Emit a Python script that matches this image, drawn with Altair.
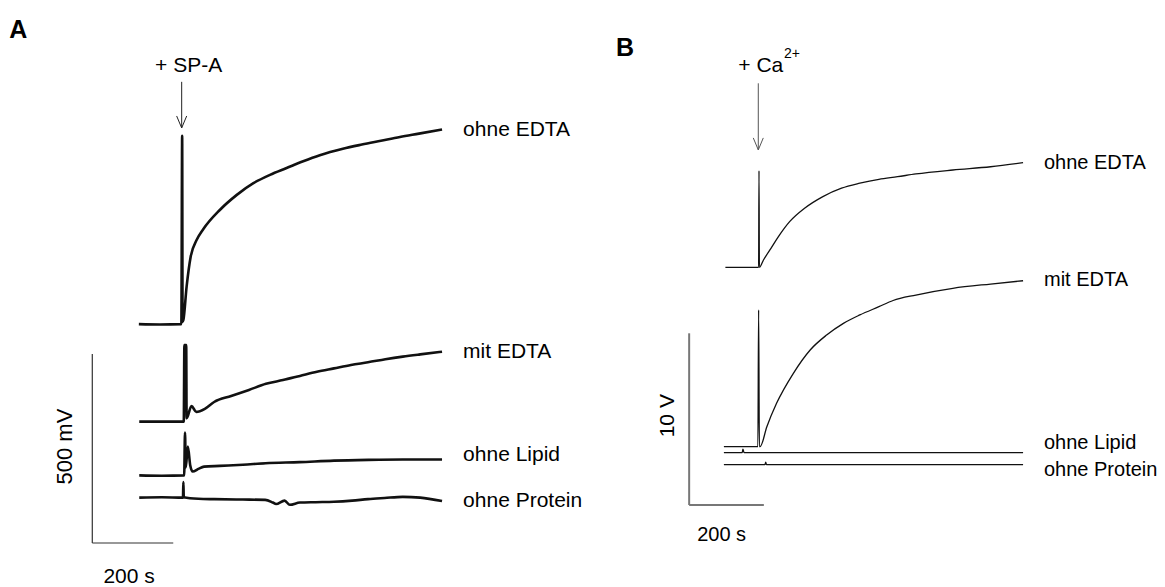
import altair as alt
import pandas as pd

FONT = "Liberation Sans"

# ---------------- Panel A : time (s) vs. signal (mV) ----------------
A_ohne_EDTA_t = [-107, -55, -2, 0, 1, 3, 11, 21, 36, 52, 93, 135, 176, 217, 258, 299, 340, 397, 444, 491, 538, 585, 642]
A_ohne_EDTA_v = [579, 578, 579, 1077, 585, 590, 678, 757, 802, 830, 881, 921, 952, 974, 992, 1010, 1026, 1043, 1054, 1064, 1074, 1083, 1094]

A_mit_EDTA_t = [-106, -50, 4, 5.5, 10, 11, 23, 35, 56, 79, 121, 165, 207, 249, 291, 333, 375, 417, 459, 502, 545, 588, 642]
A_mit_EDTA_v = [321, 321, 321, 524, 524, 330, 362, 347, 355, 373, 389, 405, 421, 431, 442, 453, 462, 471, 478, 486, 493, 499, 506]

A_ohne_Lipid_t = [-106, -50, 5, 7, 9, 14, 20, 26, 40, 54, 93, 150, 206, 290, 375, 460, 545, 642]
A_ohne_Lipid_v = [179, 178, 179, 292, 200, 255, 205, 189, 196, 202, 204, 207, 211, 214, 218, 220, 221, 221]

A_ohne_Protein_t = [-106, -50, 2, 3, 4, 40, 79, 150, 205, 224, 232, 253, 266, 291, 330, 375, 420, 459, 500, 545, 588, 642]
A_ohne_Protein_v = [120, 121, 120, 161, 121, 117, 116, 115, 114, 107, 103, 112, 101, 107, 108, 109, 112, 116, 119, 122, 120, 111]

A_labels = ["ohne EDTA", "mit EDTA", "ohne Lipid", "ohne Protein"]
A_label_t = [694, 694, 694, 694]
A_label_v = [1093, 506, 233, 110]

# scale bar A: 200 s horizontal, 500 mV vertical
A_bar_t = [-222, -22]
A_bar_v = [0, 500]

# ---------------- Panel B : time (s) vs. signal (V) ----------------
B_ohne_EDTA_t = [-90, -1, 0, 1, 12, 32, 52, 82, 122, 171, 221, 270, 321, 371, 420, 519, 620, 707]
B_ohne_EDTA_v = [13.84, 13.84, 19.47, 13.84, 14.27, 14.95, 15.63, 16.5, 17.28, 17.96, 18.45, 18.74, 18.97, 19.12, 19.28, 19.51, 19.7, 19.94]

B_mit_EDTA_t = [-94, -3, -1, 1, 3, 21, 47, 92, 137, 181, 226, 270, 321, 359, 420, 519, 620, 707]
B_mit_EDTA_v = [3.40, 3.40, 11.36, 3.40, 3.40, 4.56, 5.92, 7.67, 9.03, 9.90, 10.58, 11.07, 11.55, 11.91, 12.23, 12.62, 12.87, 13.06]

B_ohne_Lipid_t = [-94, -45, -43, -40, 707]
B_ohne_Lipid_v = [3.05, 3.05, 3.25, 3.05, 3.05]

B_ohne_Protein_t = [-94, 16, 18, 20, 707]
B_ohne_Protein_v = [2.35, 2.35, 2.5, 2.35, 2.35]

B_labels = ["ohne EDTA", "mit EDTA", "ohne Lipid", "ohne Protein"]
B_label_t = [763, 763, 763, 763]
B_label_v = [19.9, 13.1, 3.63, 2.04]

# scale bar B: 200 s horizontal, 10 V vertical
B_bar_t = [-187, 13]
B_bar_v = [0, 10]

# ---------------- annotations ----------------
A_arrow_t = -1.2
A_arrow_v = [1220, 1098]
A_head_dt, A_head_dv = 12.4, 31.7
B_arrow_t = -1.9
B_arrow_v = [24.56, 20.68]
B_head_dt, B_head_dv = 13.4, 0.7

W_A, W_B, H = 600, 565, 587
A_x = alt.Scale(domain=[-450, 1032.2], nice=False, zero=False)
A_y = alt.Scale(domain=[-116.4, 1436.5], nice=False, zero=False)
B_x = alt.Scale(domain=[-425.7, 1087.0], nice=False, zero=False)
B_y = alt.Scale(domain=[-4.776, 29.412], nice=False, zero=False)


def traces(d):
    rows = []
    for name, (ts, vs) in d.items():
        for i, (t, v) in enumerate(zip(ts, vs)):
            rows.append({"series": name, "t": t, "v": v, "i": i})
    return pd.DataFrame(rows)


def panel(tr, width_px, xs, ys, labels, lt, lv, label_size, bar_t, bar_v, arrow_t, arrow_v, hdt, hdv,
          texts, line_w, bar_color, bar_w, arrow_color):
    X = lambda f="t": alt.X(f, type="quantitative", scale=xs, axis=None)
    Y = lambda f="v": alt.Y(f, type="quantitative", scale=ys, axis=None)

    lines = alt.Chart(tr).mark_line(color="#111111", strokeWidth=line_w, strokeJoin="round",
                                    interpolate="monotone").encode(
        x=X(), y=Y(), detail="series:N", order="i:Q")

    lab = alt.Chart(pd.DataFrame({"name": labels, "t": lt, "v": lv})).mark_text(
        align="left", baseline="middle", font=FONT, fontSize=label_size, color="#000000").encode(
        x=X(), y=Y(), text="name:N")

    bars = pd.DataFrame({"t": [bar_t[0], bar_t[0]], "t2": [bar_t[1], bar_t[0]],
                         "v": [bar_v[0], bar_v[0]], "v2": [bar_v[0], bar_v[1]]})
    sb = alt.Chart(bars).mark_rule(color=bar_color, strokeWidth=bar_w).encode(
        x=X(), x2="t2:Q", y=Y(), y2="v2:Q")

    shaft = alt.Chart(pd.DataFrame({"t": [arrow_t], "v": [arrow_v[0]], "v2": [arrow_v[1]]})).mark_rule(
        color=arrow_color, strokeWidth=1).encode(x=X(), y=Y(), y2="v2:Q")
    head = alt.Chart(pd.DataFrame({"t": [arrow_t - hdt, arrow_t, arrow_t + hdt],
                                   "v": [arrow_v[1] + hdv, arrow_v[1], arrow_v[1] + hdv],
                                   "i": [0, 1, 2]})).mark_line(color=arrow_color, strokeWidth=1).encode(
        x=X(), y=Y(), order="i:Q")

    layers = [sb, lines, lab, shaft, head]
    for tx in texts:
        df = pd.DataFrame({"t": [tx["t"]], "v": [tx["v"]], "s": [tx["s"]]})
        layers.append(alt.Chart(df).mark_text(
            font=FONT, fontSize=tx.get("size", 20), fontWeight=tx.get("weight", "normal"),
            angle=tx.get("angle", 0), align=tx.get("align", "center"),
            baseline=tx.get("baseline", "middle"), color="#000000").encode(
            x=X(), y=Y(), text="s:N"))
    return alt.layer(*layers).properties(width=width_px, height=H)


trA = traces({
    "ohne EDTA": (A_ohne_EDTA_t, A_ohne_EDTA_v),
    "mit EDTA": (A_mit_EDTA_t, A_mit_EDTA_v),
    "ohne Lipid": (A_ohne_Lipid_t, A_ohne_Lipid_v),
    "ohne Protein": (A_ohne_Protein_t, A_ohne_Protein_v),
})
trB = traces({
    "ohne EDTA": (B_ohne_EDTA_t, B_ohne_EDTA_v),
    "mit EDTA": (B_mit_EDTA_t, B_mit_EDTA_v),
    "ohne Lipid": (B_ohne_Lipid_t, B_ohne_Lipid_v),
    "ohne Protein": (B_ohne_Protein_t, B_ohne_Protein_v),
})

textsA = [
    {"s": "A", "t": -405, "v": 1358, "size": 25, "weight": "bold"},
    {"s": "+ SP-A", "t": 16, "v": 1261, "size": 21},
    {"s": "500 mV", "t": -289, "v": 255, "size": 22, "angle": 270},
    {"s": "200 s", "t": -131, "v": -90, "size": 21},
]
textsB = [
    {"s": "B", "t": -359, "v": 26.6, "size": 25, "weight": "bold"},
    {"s": "+ Ca", "t": 65, "v": 25.24, "size": 21, "align": "right", "baseline": "alphabetic"},
    {"s": "2+", "t": 67, "v": 26.02, "size": 14, "align": "left", "baseline": "alphabetic"},
    {"s": "10 V", "t": -244, "v": 5.2, "size": 21, "angle": 270},
    {"s": "200 s", "t": -100, "v": -1.75, "size": 20},
]

pA = panel(trA, W_A, A_x, A_y, A_labels, A_label_t, A_label_v, 21, A_bar_t, A_bar_v,
           A_arrow_t, A_arrow_v, A_head_dt, A_head_dv, textsA, 2.6, "#333333", 1.2, "#222222")
pB = panel(trB, W_B, B_x, B_y, B_labels, B_label_t, B_label_v, 20, B_bar_t, B_bar_v,
           B_arrow_t, B_arrow_v, B_head_dt, B_head_dv, textsB, 1.3, "#777777", 2, "#555555")

chart = alt.hconcat(pA, pB, spacing=0).properties(padding=0, background="white").configure_view(
    strokeWidth=0)

chart.save("out.html", embed_options={"renderer": "svg", "actions": False})
